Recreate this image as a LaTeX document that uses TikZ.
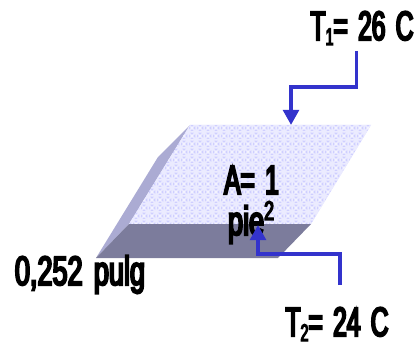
\documentclass[tikz,border=0pt]{standalone}
\usepackage{fontspec}
\setmainfont[FakeBold=5,FakeStretch=0.6,WordSpace=1.5]{Liberation Sans}
\usetikzlibrary{arrows.meta,patterns}
\definecolor{topface}{HTML}{CFCFFF}
\definecolor{frontface}{HTML}{7C7C9C}
\definecolor{sideface}{HTML}{ABABD3}
\definecolor{flow}{HTML}{3333CC}
\pgfdeclarepatternformonly{lattice}{\pgfpoint{-1pt}{-1pt}}{\pgfpoint{9pt}{9pt}}{\pgfpoint{8pt}{8pt}}{%
  \pgfsetlinewidth{1.5pt}%
  \pgfpathmoveto{\pgfpoint{0pt}{0pt}}\pgfpathlineto{\pgfpoint{8pt}{8pt}}%
  \pgfpathmoveto{\pgfpoint{0pt}{8pt}}\pgfpathlineto{\pgfpoint{8pt}{0pt}}%
  \pgfpathmoveto{\pgfpoint{4pt}{0pt}}\pgfpathlineto{\pgfpoint{4pt}{8pt}}%
  \pgfpathmoveto{\pgfpoint{0pt}{4pt}}\pgfpathlineto{\pgfpoint{8pt}{4pt}}%
  \pgfusepath{stroke}}
\newcommand{\lowdigit}[1]{\raisebox{-5pt}[0pt][0pt]{\fontsize{24}{24}\selectfont #1}}
\newcommand{\highdigit}[1]{\raisebox{15pt}[0pt][0pt]{\fontsize{27}{27}\selectfont #1}}
\tikzset{
  label text/.style={inner sep=0pt,font=\fontsize{41}{42}\selectfont,text=black,anchor=base},
  wide text/.style={label text,font=\fontsize{41}{42}\selectfont\addfontfeature{FakeStretch=0.66}},
  flow line/.style={draw=flow,line width=3.8pt,-{Triangle[length=15pt,width=15.5pt]}},
}
\begin{document}
\begin{tikzpicture}[x=1pt,y=-1pt]
\useasboundingbox (0,0) rectangle (414,344);
\fill[sideface] (190,125) -- (158,157) -- (96,258) -- (129,224) -- cycle;
\fill[frontface] (129,224) -- (311,224) -- (278,258) -- (96,258) -- cycle;
\fill[topface] (190,125) -- (371,125) -- (311,224) -- (129,224) -- cycle;
\fill[pattern=lattice,pattern color=white,opacity=.6] (190,125) -- (371,125) -- (311,224) -- (129,224) -- cycle;
\node[label text] (t1) at (362,40) {T\lowdigit{1}= 26 C};
\node[label text] (t2) at (337,336) {T\lowdigit{2}= 24 C};
\node[wide text] (w) at (80,285) {0,252 pulg};
\node[label text] (a) at (251.5,194) {A= 1};
\node[wide text] (u) at (251,235) {pie\highdigit{2}};
\coordinate (top) at (291,125);
\coordinate (up) at (258,225);
\coordinate (s1) at (356.5,51);
\coordinate (s2) at (340,285);
\draw[flow line] (s1) |- ++(-65.5,36) -- (top);
\draw[flow line] (s2) |- ++(-82,-31) -- (up);
\end{tikzpicture}
\end{document}
